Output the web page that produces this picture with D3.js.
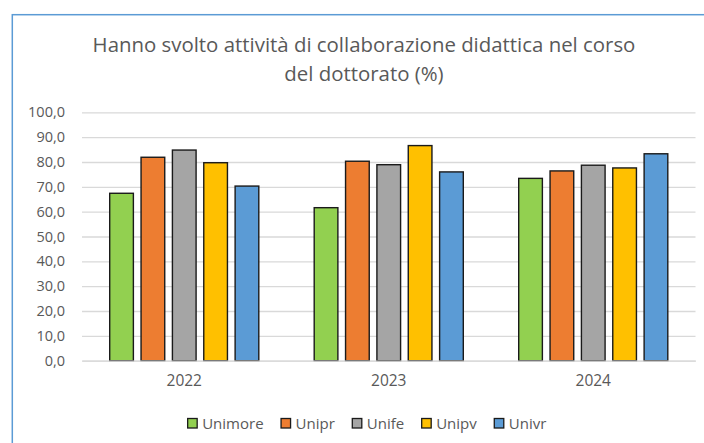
<!DOCTYPE html>
<html>
<head>
<meta charset="utf-8">
<script src="https://cdn.jsdelivr.net/npm/d3@7"></script>
<style>
  html, body { margin: 0; padding: 0; background: #fff; }
  svg { display: block; font-family: "Open Sans", sans-serif; }
</style>
</head>
<body>
<div id="chart"></div>
<script>
// data
const years = ['2022', '2023', '2024'];
const series = ['Unimore', 'Unipr', 'Unife', 'Unipv', 'Univr'];
const colors = ['#92D050', '#ED7D31', '#A5A5A5', '#FFC000', '#5B9BD5'];
const values = {
    Unimore: [67.4, 61.6, 73.4],
    Unipr:   [81.9, 80.3, 76.4],
    Unife:   [84.8, 78.9, 78.7],
    Unipv:   [79.7, 86.6, 77.6],
    Univr:   [70.3, 76.0, 83.3]
};
const yTicks = [0, 10, 20, 30, 40, 50, 60, 70, 80, 90, 100];
const titleLines = ['Hanno svolto attività di collaborazione didattica nel corso', 'del dottorato (%)'];

const W = 704, H = 443;
const TEXT = '#595959';
const GRID = '#D9D9D9';

const svg = d3.select('#chart').append('svg')
    .attr('width', W)
    .attr('height', H);

svg.append('rect')
    .attr('width', W).attr('height', H)
    .attr('fill', '#fff');

// chart frame (cut off at right and bottom like in the screenshot)
svg.append('rect')
    .attr('x', 12.3).attr('y', 14.7)
    .attr('width', 720).attr('height', 460)
    .attr('fill', 'none')
    .attr('stroke', '#5B9BD5')
    .attr('stroke-width', 1.5);

// title
const title = svg.append('text')
    .attr('text-anchor', 'middle')
    .attr('fill', TEXT)
    .style('font-size', '20.4px');
title.selectAll('tspan')
    .data(titleLines)
    .join('tspan')
    .attr('x', 364)
    .attr('y', (d, i) => 52.3 + i * 28.7)
    .text(d => d);

// scales
const x0 = d3.scaleBand()
    .domain(years)
    .range([82, 695.5]);
const groupPad = 27;
const x1 = d3.scaleBand()
    .domain(series)
    .range([groupPad, x0.bandwidth() - groupPad])
    .paddingInner(0.2);
const y = d3.scaleLinear()
    .domain([0, 100])
    .range([360.7, 112.3]);

// gridlines
const yAxis = d3.axisLeft(y)
    .tickValues(yTicks)
    .tickSize(-(x0.range()[1] - x0.range()[0]))
    .tickPadding(17)
    .tickFormat(d => d3.format('.1f')(d).replace('.', ','));
const gy = svg.append('g')
    .attr('transform', `translate(${x0.range()[0]},0)`)
    .call(yAxis);
gy.select('.domain').remove();
gy.selectAll('.tick line')
    .attr('stroke', GRID)
    .attr('stroke-width', 1.3);
gy.selectAll('.tick text')
    .attr('fill', TEXT)
    .style('font-size', '14.5px')
    .style('font-family', '"Open Sans", sans-serif');

// bars
const groups = svg.append('g')
    .selectAll('g')
    .data(years)
    .join('g')
    .attr('transform', d => `translate(${x0(d)},0)`);
groups.selectAll('rect')
    .data((yr, j) => series.map((s, i) => ({ s, i, v: values[s][j] })))
    .join('rect')
    .attr('x', d => x1(d.s) + 0.7)
    .attr('width', x1.bandwidth() - 1.4)
    .attr('y', d => y(d.v))
    .attr('height', d => y(0) - y(d.v))
    .attr('fill', d => colors[d.i])
    .attr('stroke', '#1a1a1a')
    .attr('stroke-width', 1.4);

// x axis
const xAxis = d3.axisBottom(x0).tickSize(0).tickPadding(14);
const gx = svg.append('g')
    .attr('transform', `translate(0,${y(0)})`)
    .call(xAxis);
gx.select('.domain')
    .attr('stroke', GRID)
    .attr('stroke-width', 1.3);
gx.selectAll('.tick text')
    .attr('fill', TEXT)
    .style('font-size', '15.5px')
    .style('font-family', '"Open Sans", sans-serif');

// legend, centred on the chart area
const legend = svg.append('g').style('font-size', '15px');
const items = legend.selectAll('g')
    .data(series)
    .join('g');
items.append('rect')
    .attr('width', 9.5).attr('height', 9.5)
    .attr('y', 418.5)
    .attr('fill', (d, i) => colors[i])
    .attr('stroke', '#1a1a1a')
    .attr('stroke-width', 1.3);
items.append('text')
    .attr('x', 14.5)
    .attr('y', 428.5)
    .attr('fill', TEXT)
    .text(d => d);
let cursor = 0;
items.each(function () {
    const w = d3.select(this).select('text').node().getComputedTextLength();
    d3.select(this).attr('transform', `translate(${cursor},0)`);
    cursor += 14.5 + w + 17.5;
});
const legendW = cursor - 17.5;
legend.attr('transform', `translate(${367 - legendW / 2},0)`);
</script>
</body>
</html>
